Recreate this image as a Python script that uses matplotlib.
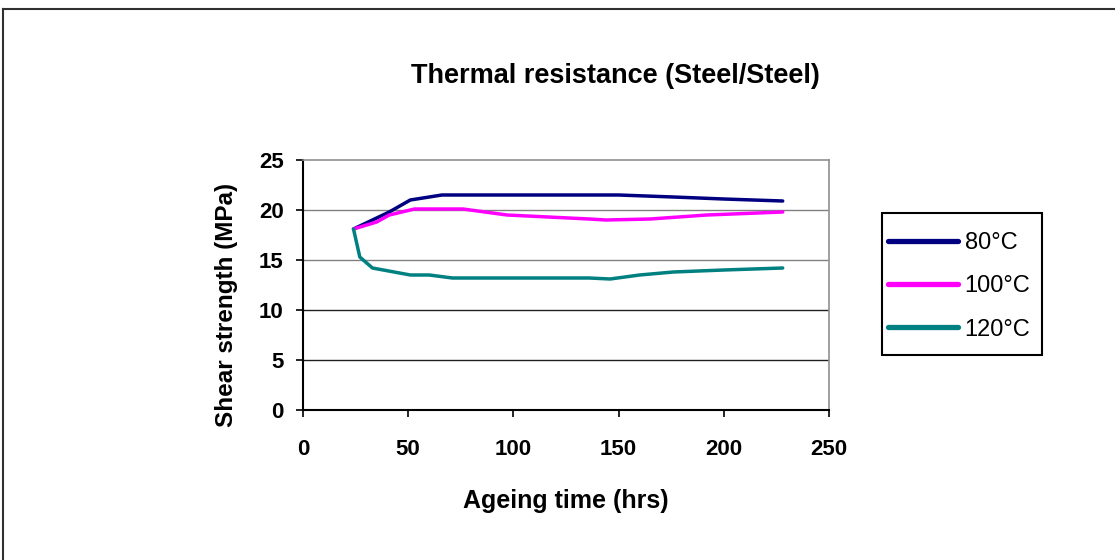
import matplotlib
matplotlib.use('Agg')
import matplotlib.pyplot as plt
from matplotlib.lines import Line2D
from matplotlib.patches import Rectangle

plt.rcParams['font.family'] = ['Liberation Sans', 'DejaVu Sans']

# Shear strength vs ageing time
hrs_80 = [24, 30, 41, 51, 66, 100, 136, 150, 176, 200, 228]
mpa_80 = [18.1, 18.7, 19.8, 21.0, 21.5, 21.5, 21.5, 21.5, 21.3, 21.1, 20.9]

hrs_100 = [24, 35, 41, 53, 76, 97, 136, 144, 165, 192, 228]
mpa_100 = [18.1, 18.8, 19.5, 20.1, 20.1, 19.5, 19.1, 19.0, 19.1, 19.5, 19.8]

hrs_120 = [24, 27, 33, 51, 60, 71, 100, 136, 146, 160, 176, 200, 228]
mpa_120 = [18.1, 15.3, 14.2, 13.5, 13.5, 13.2, 13.2, 13.2, 13.1, 13.5, 13.8, 14.0, 14.2]

labels = ['80°C', '100°C', '120°C']
colors = ['#000080', '#FF00FF', '#008080']

W, H = 1115, 560
fig = plt.figure(figsize=(W / 100, H / 100), dpi=100)
ax = fig.add_axes([303 / W, 1 - 410 / H, 526 / W, 250 / H])

# Outer frame of the chart (only left and top edges visible)
fig.add_artist(Line2D([3 / W, 3 / W], [0, 1 - 9 / H],
                      transform=fig.transFigure, color='#303030', lw=1.5))
fig.add_artist(Line2D([3 / W, 1], [1 - 9 / H, 1 - 9 / H],
                      transform=fig.transFigure, color='#303030', lw=1.5))

for (x, y), lab, col in zip([(hrs_80, mpa_80), (hrs_100, mpa_100),
                             (hrs_120, mpa_120)], labels, colors):
    ax.plot(x, y, color=col, lw=2.5, label=lab, solid_capstyle='round', zorder=3)

ax.set_xlim(0, 250)
ax.set_ylim(0, 25)
ax.set_xticks(range(0, 251, 50))
ax.set_yticks(range(0, 26, 5))

# horizontal gridlines: darker below, lighter above (as in the picture)
for yv in [5, 10]:
    ax.axhline(yv, color='#202020', lw=1.0, zorder=1)
for yv in [15, 20]:
    ax.axhline(yv, color='#808080', lw=1.0, zorder=1)

for side in ['top', 'right']:
    ax.spines[side].set_color('#909090')
    ax.spines[side].set_linewidth(1.2)
for side in ['left', 'bottom']:
    ax.spines[side].set_color('black')
    ax.spines[side].set_linewidth(1.5)

ax.tick_params(direction='out', length=5, width=1.2, labelsize=16)
ax.tick_params(axis='x', pad=16)
ax.tick_params(axis='y', pad=9)
for t in ax.get_xticklabels() + ax.get_yticklabels():
    t.set_fontweight('bold')

ax.set_xlabel('Ageing time (hrs)', fontsize=18, fontweight='bold')
ax.set_ylabel('Shear strength (MPa)', fontsize=17.5, fontweight='bold')
ax.xaxis.set_label_coords(0.5, (410 - 489) / 250)
ax.yaxis.set_label_coords((238 - 303) / 526, 0.42)
fig.text(615 / W, 1 - 76 / H, 'Thermal resistance (Steel/Steel)',
         ha='center', va='center', fontsize=19.5, fontweight='bold')

# legend box drawn separately so the entries can be spaced freely
fig.add_artist(Rectangle((882 / W, 1 - 355 / H), 160 / W, 142 / H,
                         transform=fig.transFigure, fill=False,
                         edgecolor='black', lw=1.5))
leg = ax.legend(loc='center left', bbox_to_anchor=(888 / W, 1 - 286.5 / H),
                bbox_transform=fig.transFigure, borderaxespad=0, borderpad=0,
                fontsize=17, frameon=False, handlelength=2.95,
                labelspacing=0.89, handletextpad=0.3)
for h in leg.get_lines():
    h.set_linewidth(3.8)

fig.savefig('out.png', dpi=100, facecolor='white')
